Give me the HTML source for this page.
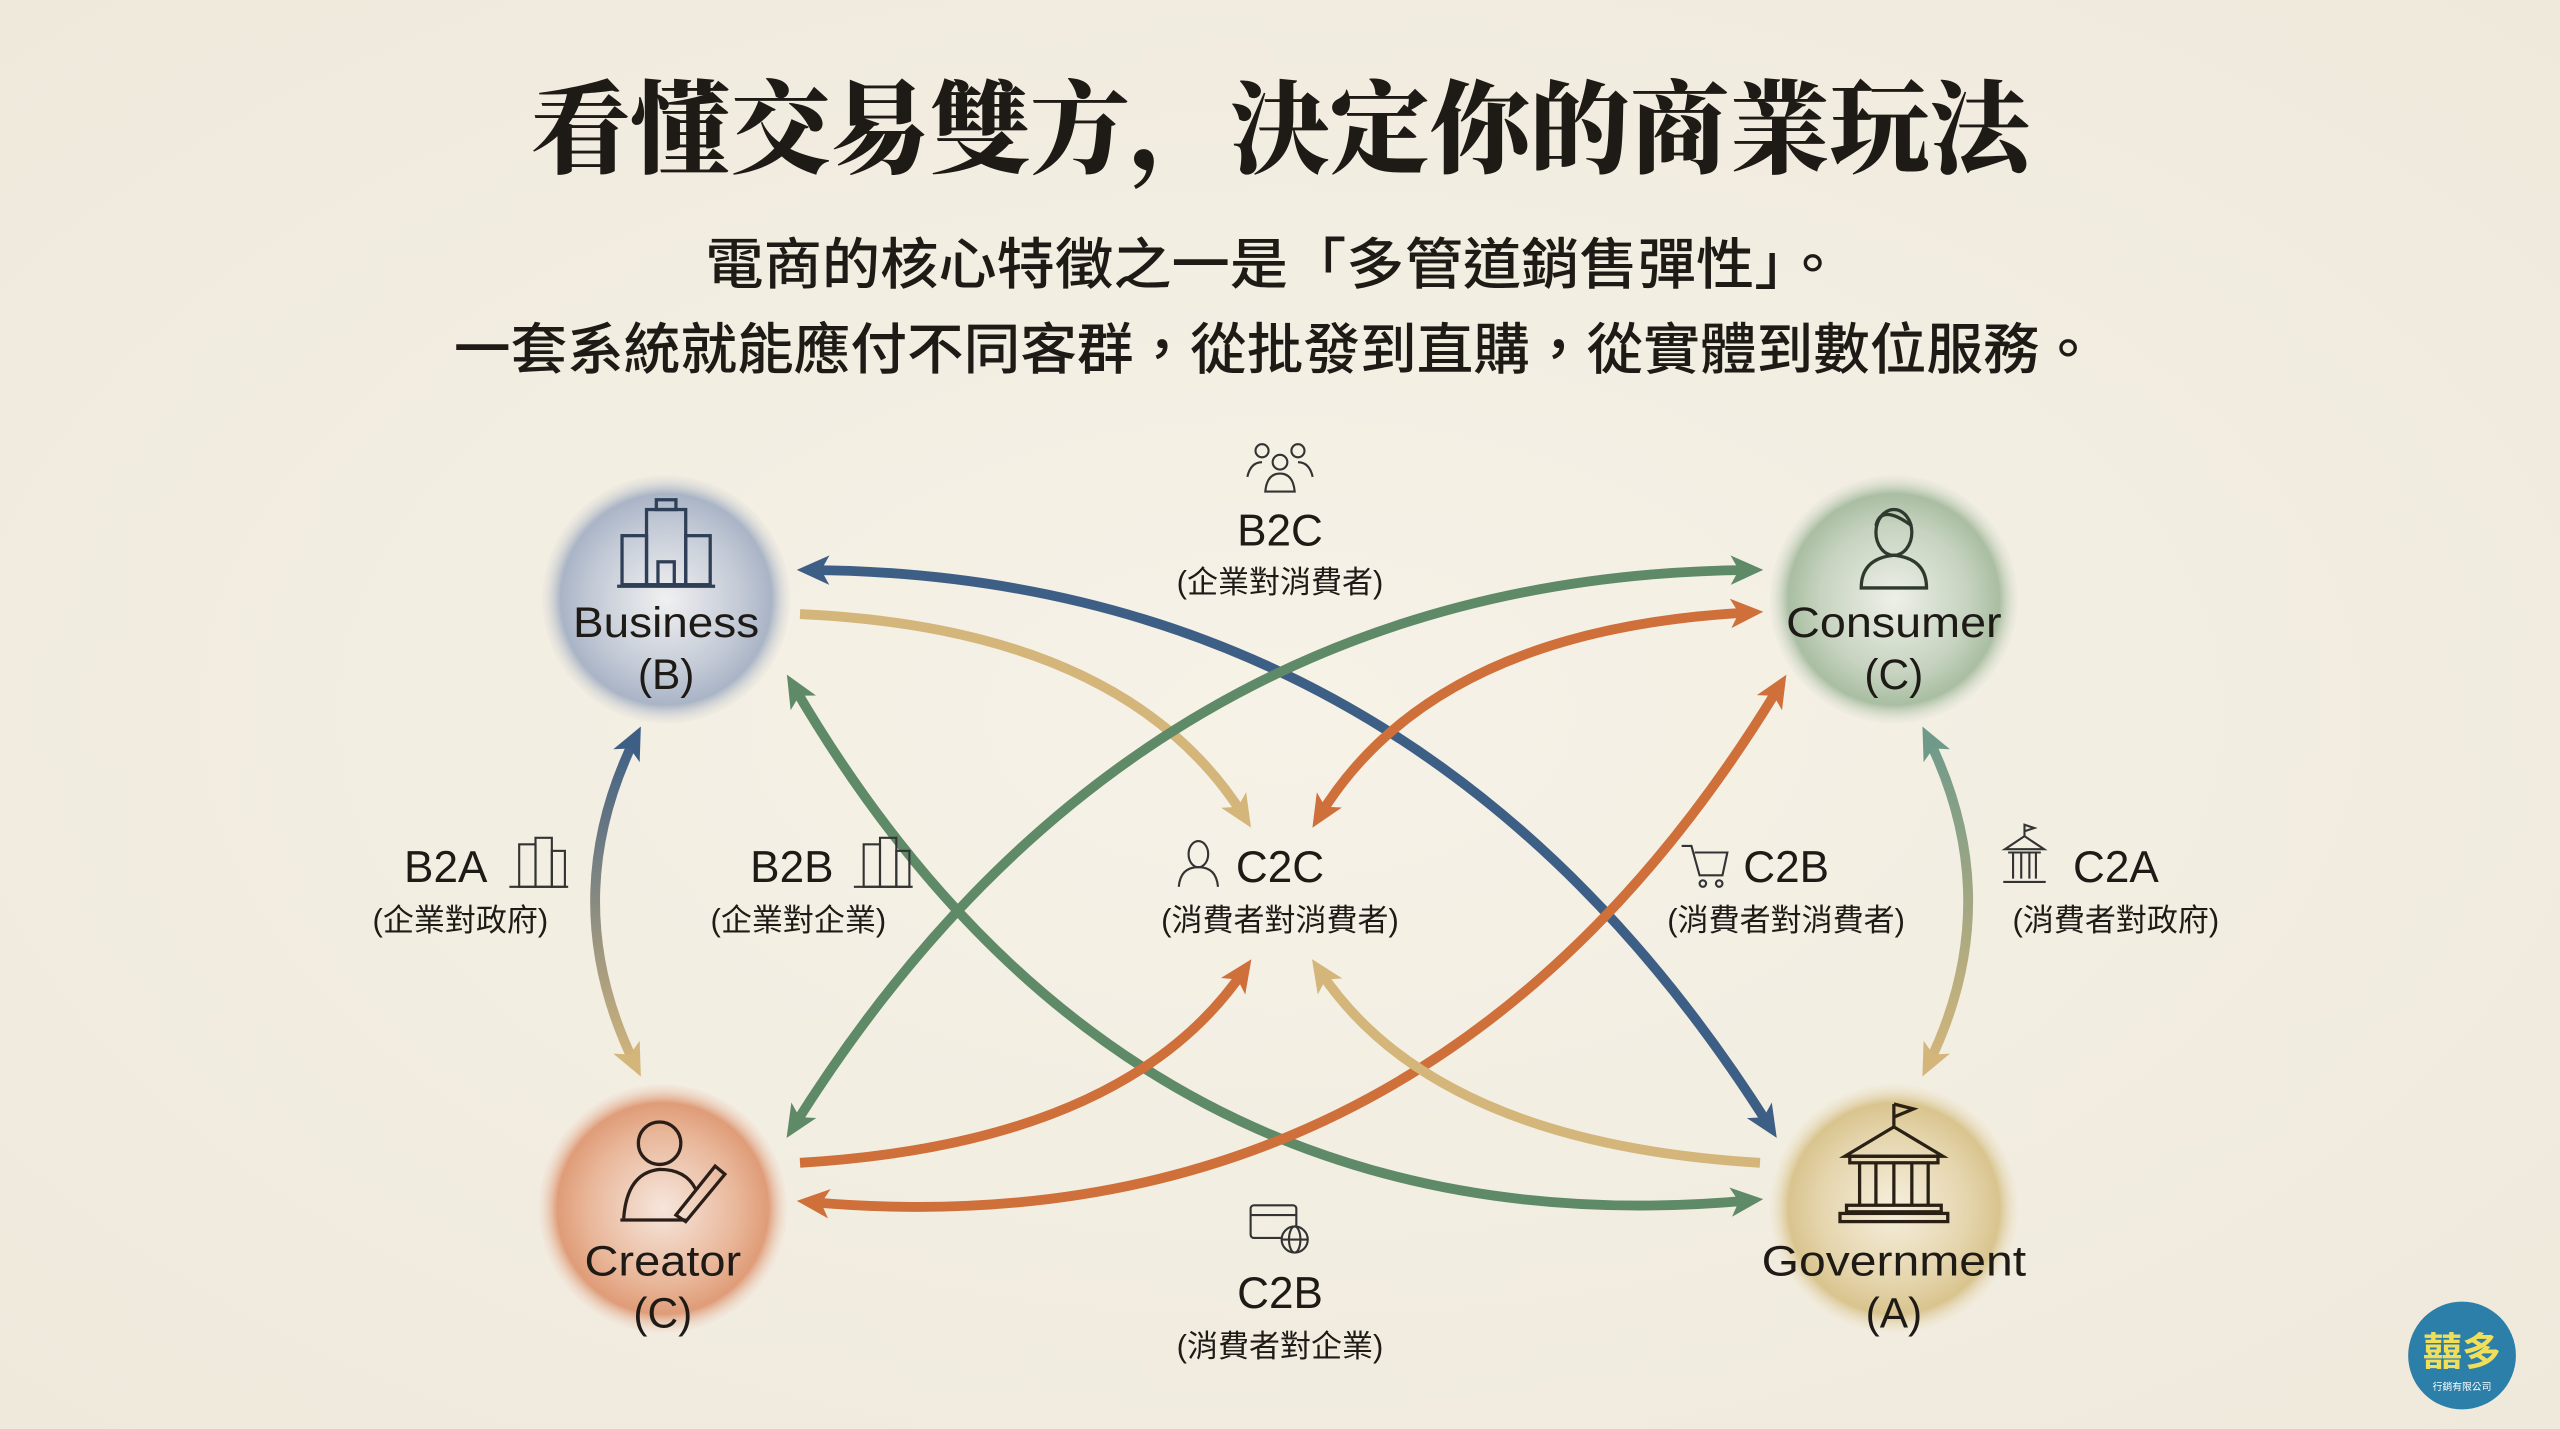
<!DOCTYPE html>
<html><head><meta charset="utf-8"><style>
html,body{margin:0;padding:0;background:#f3eee2;}
svg{display:block}
</style></head><body>
<svg width="2560" height="1429" viewBox="0 0 1568 875" preserveAspectRatio="none" xmlns="http://www.w3.org/2000/svg">
<defs>
<radialGradient id="bg" cx="50%" cy="50%" r="70%"><stop offset="0" stop-color="#f6f2e7"/><stop offset="1" stop-color="#efe9dc"/></radialGradient>
<radialGradient id="gB"><stop offset="0" stop-color="#f0f0f0"/><stop offset="0.6" stop-color="#c3cad6"/><stop offset="0.85" stop-color="#a9b4c6"/><stop offset="1" stop-color="#e6e3dc" stop-opacity="0.3"/></radialGradient>
<radialGradient id="gC"><stop offset="0" stop-color="#eef0e8"/><stop offset="0.6" stop-color="#c6d3bf"/><stop offset="0.85" stop-color="#a9bea2"/><stop offset="1" stop-color="#e6e6dc" stop-opacity="0.3"/></radialGradient>
<radialGradient id="gR"><stop offset="0" stop-color="#f6e6dc"/><stop offset="0.6" stop-color="#e9b79a"/><stop offset="0.85" stop-color="#df9c78"/><stop offset="1" stop-color="#f0e0d4" stop-opacity="0.3"/></radialGradient>
<radialGradient id="gG"><stop offset="0" stop-color="#f6efdd"/><stop offset="0.6" stop-color="#e5d5ad"/><stop offset="0.85" stop-color="#d9c48e"/><stop offset="1" stop-color="#efe8d4" stop-opacity="0.3"/></radialGradient>
<linearGradient id="lA" x1="0" y1="0" x2="0" y2="1"><stop offset="0" stop-color="#3e5f85"/><stop offset="1" stop-color="#d2b57c"/></linearGradient>
<linearGradient id="lCA" x1="0" y1="0" x2="0" y2="1"><stop offset="0" stop-color="#6f9a8a"/><stop offset="1" stop-color="#d4b57a"/></linearGradient>
<marker id="mBl" viewBox="0 0 20 20" refX="12" refY="10" markerWidth="20" markerHeight="20" markerUnits="userSpaceOnUse" orient="auto-start-reverse"><path d="M0,1 L20,10 L0,19 L5,10z" fill="#3e5f85"/></marker>
<marker id="mTa" viewBox="0 0 20 20" refX="12" refY="10" markerWidth="20" markerHeight="20" markerUnits="userSpaceOnUse" orient="auto-start-reverse"><path d="M0,1 L20,10 L0,19 L5,10z" fill="#d4b57a"/></marker>
<marker id="mGr" viewBox="0 0 20 20" refX="12" refY="10" markerWidth="20" markerHeight="20" markerUnits="userSpaceOnUse" orient="auto-start-reverse"><path d="M0,1 L20,10 L0,19 L5,10z" fill="#5e8a68"/></marker>
<marker id="mOr" viewBox="0 0 20 20" refX="12" refY="10" markerWidth="20" markerHeight="20" markerUnits="userSpaceOnUse" orient="auto-start-reverse"><path d="M0,1 L20,10 L0,19 L5,10z" fill="#cf6f3a"/></marker>
<marker id="mTe" viewBox="0 0 20 20" refX="12" refY="10" markerWidth="20" markerHeight="20" markerUnits="userSpaceOnUse" orient="auto-start-reverse"><path d="M0,1 L20,10 L0,19 L5,10z" fill="#6f9a8a"/></marker>
</defs>
<rect width="1568" height="875" fill="url(#bg)"/>

<text x="784" y="101" text-anchor="middle" textLength="918" lengthAdjust="spacingAndGlyphs" font-family="'Noto Serif CJK SC','Noto Serif CJK TC',serif" font-weight="900" font-size="62" fill="#1e1a16">看懂交易雙方，決定你的商業玩法</text>
<g font-family="'Liberation Sans','Noto Sans CJK TC',sans-serif" font-size="34" fill="#1e1a16" text-anchor="middle" font-weight="500">
<text x="780" y="174" textLength="696" lengthAdjust="spacingAndGlyphs">電商的核心特徵之一是「多管道銷售彈性」。</text>
<text x="781" y="226" textLength="1006" lengthAdjust="spacingAndGlyphs">一套系統就能應付不同客群，從批發到直購，從實體到數位服務。</text>
</g>

<circle cx="408" cy="367" r="76" fill="url(#gB)"/>
<circle cx="1160" cy="367" r="76" fill="url(#gC)"/>
<circle cx="406" cy="740" r="76" fill="url(#gR)"/>
<circle cx="1160" cy="740" r="76" fill="url(#gG)"/>

<g fill="none" stroke-width="6" stroke-linecap="butt">
<path d="M496,349 Q871,352 1084,690" stroke="#3e5f85" marker-start="url(#mBl)" marker-end="url(#mBl)"/>
<path d="M490,376 Q690,385 762,500" stroke="#d4b57a" marker-end="url(#mTa)"/>
<path d="M1072,349 Q697,352 486,690" stroke="#5e8a68" marker-start="url(#mGr)" marker-end="url(#mGr)"/>
<path d="M1072,375 Q878,385 808,500" stroke="#cf6f3a" marker-start="url(#mOr)" marker-end="url(#mOr)"/>
<path d="M486,420 Q690,770 1072,735" stroke="#5e8a68" marker-start="url(#mGr)" marker-end="url(#mGr)"/>
<path d="M490,712 Q690,700 762,594" stroke="#cf6f3a" marker-end="url(#mOr)"/>
<path d="M496,736 Q878,770 1090,420" stroke="#cf6f3a" marker-start="url(#mOr)" marker-end="url(#mOr)"/>
<path d="M1078,712 Q878,700 808,594" stroke="#d4b57a" marker-end="url(#mTa)"/>
<path d="M389,452 Q340,552 389,652" stroke="url(#lA)" marker-start="url(#mBl)" marker-end="url(#mTa)"/>
<path d="M1181,452 Q1230,552 1181,652" stroke="url(#lCA)" marker-start="url(#mTe)" marker-end="url(#mTa)"/>
</g>

<g font-family="'Liberation Sans','DejaVu Sans',sans-serif" font-size="26" fill="#1e1a16" text-anchor="middle">
<text x="408" y="390" textLength="114" lengthAdjust="spacingAndGlyphs">Business</text><text x="408" y="422">(B)</text>
<text x="1160" y="390" textLength="132" lengthAdjust="spacingAndGlyphs">Consumer</text><text x="1160" y="422">(C)</text>
<text x="406" y="781" textLength="96" lengthAdjust="spacingAndGlyphs">Creator</text><text x="406" y="813">(C)</text>
<text x="1160" y="781" textLength="162" lengthAdjust="spacingAndGlyphs">Government</text><text x="1160" y="813">(A)</text>
</g>

<g fill="none" stroke="#2e3f57" stroke-width="2">
<rect x="396" y="312" width="24" height="46"/><rect x="381" y="328" width="15" height="30"/><rect x="420" y="328" width="15" height="30"/>
<line x1="378" y1="359" x2="438" y2="359"/><rect x="402" y="306" width="12" height="6"/><rect x="403" y="344" width="10" height="14"/>
</g>
<g fill="none" stroke="#2e3a2e" stroke-width="2">
<ellipse cx="1160" cy="326" rx="11" ry="14"/><path d="M1140,360 Q1140,342 1160,340 Q1180,342 1180,360 Z"/><path d="M1149,322 Q1152,308 1171,322"/>
</g>
<g fill="none" stroke="#2a1e18" stroke-width="2">
<circle cx="404" cy="700" r="13"/><path d="M382,746 Q384,718 404,716 Q420,716 426,728"/><line x1="380" y1="747" x2="420" y2="747"/><path d="M414,744 L438,714 L444,719 L420,748 Z"/>
</g>
<g fill="none" stroke="#2a2014" stroke-width="2">
<line x1="1160" y1="676" x2="1160" y2="690"/><path d="M1160,676 L1172,679 L1160,684"/>
<path d="M1130,708 L1160,690 L1190,708 Z"/><rect x="1133" y="708" width="54" height="4"/>
<line x1="1139" y1="712" x2="1139" y2="738"/><line x1="1149" y1="712" x2="1149" y2="738"/><line x1="1160" y1="712" x2="1160" y2="738"/><line x1="1171" y1="712" x2="1171" y2="738"/><line x1="1181" y1="712" x2="1181" y2="738"/>
<rect x="1131" y="738" width="58" height="4"/><rect x="1127" y="743" width="66" height="5"/>
</g>

<g font-family="'Liberation Sans','DejaVu Sans',sans-serif" font-size="27" fill="#1e1a16" text-anchor="middle">
<text x="784" y="334">B2C</text>
<text x="273" y="540">B2A</text>
<text x="485" y="540">B2B</text>
<text x="784" y="540">C2C</text>
<text x="1094" y="540">C2B</text>
<text x="1296" y="540">C2A</text>
<text x="784" y="801">C2B</text>
</g>
<g font-family="'Liberation Sans','Noto Sans CJK TC',sans-serif" font-size="19" fill="#1e1a16" text-anchor="middle">
<text x="784" y="363">(企業對消費者)</text>
<text x="282" y="570">(企業對政府)</text>
<text x="489" y="570">(企業對企業)</text>
<text x="784" y="570">(消費者對消費者)</text>
<text x="1094" y="570">(消費者對消費者)</text>
<text x="1296" y="570">(消費者對政府)</text>
<text x="784" y="831">(消費者對企業)</text>
</g>

<g fill="none" stroke="#333" stroke-width="1.3">
<circle cx="773" cy="276" r="4"/><circle cx="795" cy="276" r="4"/><circle cx="784" cy="283" r="4.5"/>
<path d="M764,292 Q766,283 773,283"/><path d="M804,292 Q802,283 795,283"/><path d="M775,301 Q776,290 784,290 Q792,290 793,301 Z"/>
<rect x="318" y="517" width="10" height="26"/><rect x="328" y="513" width="10" height="30"/><rect x="338" y="521" width="8" height="22"/><line x1="312" y1="543" x2="348" y2="543"/>
<rect x="529" y="517" width="10" height="26"/><rect x="539" y="513" width="10" height="30"/><rect x="549" y="521" width="8" height="22"/><line x1="523" y1="543" x2="559" y2="543"/>
<ellipse cx="734" cy="523" rx="6" ry="8"/><path d="M722,543 Q723,531 734,531 Q745,531 746,543"/>
<path d="M1030,518 L1036,518 L1041,536 L1055,536 L1058,522 L1038,522"/><circle cx="1043" cy="541" r="2"/><circle cx="1053" cy="541" r="2"/>
<path d="M1228,520 L1240,512 L1252,520 Z M1230,522 L1250,522 M1233,522 L1233,538 M1238,522 L1238,538 M1243,522 L1243,538 M1247,522 L1247,538 M1227,540 L1253,540 M1240,512 L1240,505 L1246,507 L1240,509"/>
<rect x="766" y="738" width="28" height="20" rx="2"/><line x1="766" y1="744" x2="794" y2="744"/><circle cx="793" cy="759" r="8" fill="#f3eee2"/><line x1="785" y1="759" x2="801" y2="759"/><ellipse cx="793" cy="759" rx="3.5" ry="8"/>
</g>

<circle cx="1508" cy="830" r="33" fill="#2b7fa9"/>
<text x="1508" y="836" text-anchor="middle" font-family="'Noto Sans CJK TC',sans-serif" font-size="24" font-weight="700" fill="#f1de5a">囍多</text>
<text x="1508" y="851" text-anchor="middle" font-family="'Noto Sans CJK TC',sans-serif" font-size="6" fill="#ffffff">行銷有限公司</text>
</svg>
</body></html>
